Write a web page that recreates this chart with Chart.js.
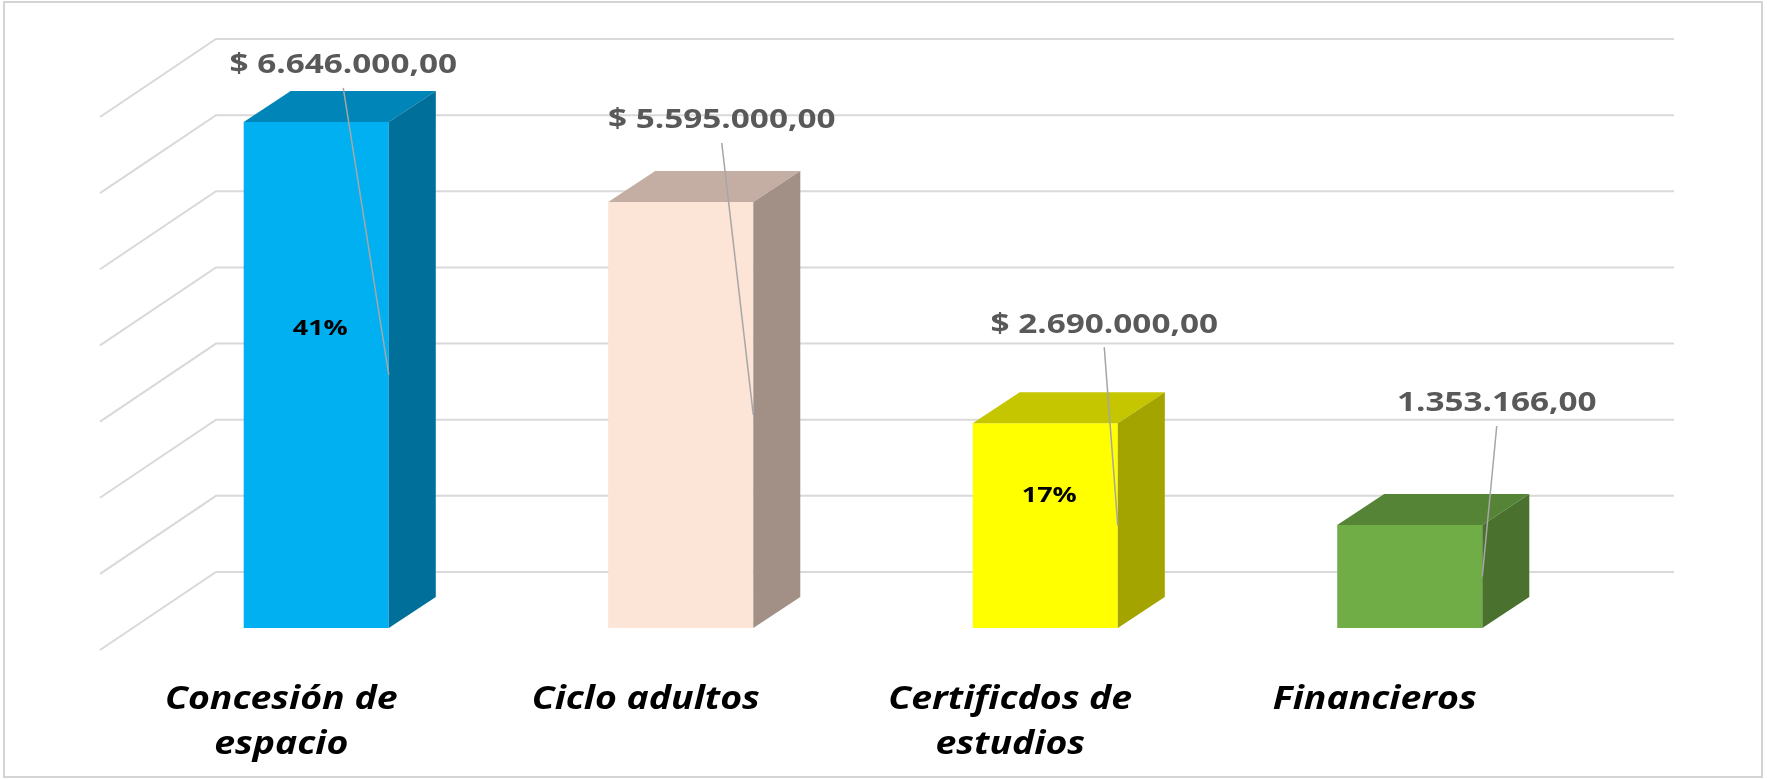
<!DOCTYPE html>
<html>
<head>
    <meta charset="UTF-8" />
    <title>Ingresos por concepto</title>
    <style>
        html, body { margin: 0; padding: 0; background: #ffffff; }
        #wrap { width: 1767px; height: 779px; }
    </style>
</head>
<body>
    <div id="wrap"><canvas id="chartId"></canvas></div>
    <script src="https://cdn.jsdelivr.net/npm/chart.js@4.4.0/dist/chart.umd.min.js"></script>
    <script>
        // values
        const categories = [['Concesión de', 'espacio'], 'Ciclo adultos', ['Certificdos de', 'estudios'], 'Financieros'];
        const values = [6646000, 5595000, 2690000, 1353166];
        const valueLabels = ['$ 6.646.000,00', '$ 5.595.000,00', '$ 2.690.000,00', '1.353.166,00'];
        const percentLabels = ['41%', '', '17%', ''];
        const yMin = 0;
        const yMax = 7000000;
        const yStep = 1000000;

        // colours per bar: front, top and side faces
        const frontColors = ['#00b0f0', '#fce4d6', '#ffff00', '#70ad47'];
        const topColors = ['#0085b8', '#c4aea3', '#c6c600', '#568436'];
        const sideColors = ['#00709a', '#a29087', '#a4a400', '#4a712e'];

        // where excel left the labels (dragged by hand), relative to the bar
        const labelOffsets = [[27, -56], [41, -81], [59, -98], [87, -121]];
        const percentPos = [0.41, 0, 0.356, 0];

        const depth = { dx: 47, dy: -31 };   // bar depth
        const wallBack = { dx: 82, dy: -56 };  // bar plane -> back wall
        const wallFront = { dx: -34, dy: 22 }; // bar plane -> front edge
        const textStretch = 1.28;            // the source picture is stretched sideways

        function stretchText(ctx, text, x, y, sx) {
            ctx.save();
            ctx.translate(x, y);
            ctx.scale(sx, 1);
            ctx.fillText(text, 0, 0);
            ctx.restore();
        }

        const box3d = {
            id: 'box3d',
            beforeDraw(chart) {
                const ctx = chart.ctx;
                ctx.save();
                ctx.fillStyle = '#ffffff';
                ctx.fillRect(0, 0, chart.width, chart.height);
                ctx.strokeStyle = '#d4d4d4';
                ctx.lineWidth = 2;
                ctx.strokeRect(4, 2, chart.width - 9, chart.height - 4);
                ctx.restore();
            },
            beforeDatasetsDraw(chart) {
                const ctx = chart.ctx;
                const a = chart.chartArea;
                const y = chart.scales.y;
                ctx.save();
                ctx.strokeStyle = '#d9d9d9';
                ctx.lineWidth = 2;
                for (let v = yMin; v <= yMax; v += yStep) {
                    const py = y.getPixelForValue(v);
                    ctx.beginPath();
                    ctx.moveTo(a.left + wallFront.dx, py + wallFront.dy);
                    ctx.lineTo(a.left + wallBack.dx, py + wallBack.dy);
                    ctx.lineTo(a.right + wallBack.dx, py + wallBack.dy);
                    ctx.stroke();
                }
                ctx.restore();
            },
            afterDatasetsDraw(chart) {
                const ctx = chart.ctx;
                const meta = chart.getDatasetMeta(0);
                const xs = chart.scales.x;
                const a = chart.chartArea;
                ctx.save();
                meta.data.forEach((bar, i) => {
                    const p = bar.getProps(['x', 'y', 'base', 'width'], true);
                    const l = p.x - p.width / 2;
                    const r = p.x + p.width / 2;
                    // top face
                    ctx.fillStyle = topColors[i];
                    ctx.beginPath();
                    ctx.moveTo(l, p.y);
                    ctx.lineTo(l + depth.dx, p.y + depth.dy);
                    ctx.lineTo(r + depth.dx, p.y + depth.dy);
                    ctx.lineTo(r, p.y);
                    ctx.closePath();
                    ctx.fill();
                    // side face
                    ctx.fillStyle = sideColors[i];
                    ctx.beginPath();
                    ctx.moveTo(r, p.y);
                    ctx.lineTo(r + depth.dx, p.y + depth.dy);
                    ctx.lineTo(r + depth.dx, p.base + depth.dy);
                    ctx.lineTo(r, p.base);
                    ctx.closePath();
                    ctx.fill();
                });

                ctx.textAlign = 'center';
                ctx.textBaseline = 'middle';
                meta.data.forEach((bar, i) => {
                    const p = bar.getProps(['x', 'y', 'base', 'width'], true);
                    const lx = p.x + labelOffsets[i][0];
                    const ly = p.y + labelOffsets[i][1];
                    // leader line
                    ctx.strokeStyle = '#a6a6a6';
                    ctx.lineWidth = 1.5;
                    ctx.beginPath();
                    ctx.moveTo(lx, ly + 22);
                    ctx.lineTo(p.x + p.width / 2, (p.y + p.base) / 2);
                    ctx.stroke();
                    // value label
                    ctx.fillStyle = '#595959';
                    ctx.font = 'bold 26px "Open Sans"';
                    stretchText(ctx, valueLabels[i], lx, ly, textStretch);
                    // percent label
                    if (percentLabels[i]) {
                        ctx.fillStyle = '#000000';
                        ctx.font = 'bold 21px "Open Sans"';
                        stretchText(ctx, percentLabels[i], p.x + 4, p.y + (p.base - p.y) * percentPos[i], textStretch);
                    }
                });

                // category labels, under the front edge of the floor
                ctx.fillStyle = '#000000';
                ctx.font = 'italic bold 32px "Open Sans"';
                categories.forEach((c, i) => {
                    const cx = xs.getPixelForValue(i) + wallFront.dx - 1;
                    const lines = Array.isArray(c) ? c : [c];
                    lines.forEach((t, k) => {
                        stretchText(ctx, t, cx, a.bottom + 72 + k * 45, 1.17);
                    });
                });
                ctx.restore();
            }
        };

        const chrt = document.getElementById('chartId').getContext('2d');
        const chartId = new Chart(chrt, {
            type: 'bar',
            data: {
                labels: categories,
                datasets: [{
                    data: values,
                    backgroundColor: frontColors,
                    borderWidth: 0,
                    barPercentage: 0.398,
                    categoryPercentage: 1
                }]
            },
            options: {
                responsive: true,
                maintainAspectRatio: false,
                animation: false,
                layout: { padding: { left: 134, right: 175, top: 95, bottom: 0 } },
                plugins: {
                    legend: { display: false },
                    tooltip: { enabled: false }
                },
                scales: {
                    x: {
                        grid: { display: false, drawTicks: false },
                        border: { display: false },
                        ticks: { display: false },
                        afterFit: (scale) => { scale.height = 151; }
                    },
                    y: {
                        display: false,
                        min: yMin,
                        max: yMax,
                        ticks: { stepSize: yStep }
                    }
                }
            },
            plugins: [box3d]
        });
    </script>
</body>
</html>
